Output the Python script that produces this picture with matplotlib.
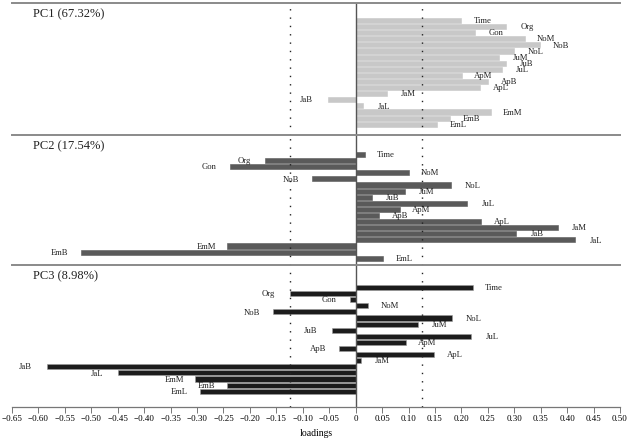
import numpy as np
import matplotlib.pyplot as plt

plt.rcParams['font.family'] = ['Liberation Serif', 'DejaVu Serif']

# variables and loadings
variables = ['Time', 'Org', 'Gon', 'NoM', 'NoB', 'NoL', 'JuM', 'JuB', 'JuL',
             'ApM', 'ApB', 'ApL', 'JaM', 'JaB', 'JaL', 'EmM', 'EmB', 'EmL']
pc1 = [0.200, 0.284, 0.225, 0.320, 0.348, 0.300, 0.271, 0.284, 0.276,
       0.202, 0.250, 0.235, 0.059, -0.053, 0.014, 0.256, 0.179, 0.154]
pc2 = [0.017, -0.171, -0.237, 0.100, -0.083, 0.181, 0.094, 0.030, 0.211,
       0.084, 0.045, 0.237, 0.383, 0.303, 0.414, -0.243, -0.520, 0.051]
pc3 = [0.222, -0.125, -0.011, 0.024, -0.156, 0.183, 0.118, -0.045, 0.219,
       0.095, -0.031, 0.148, 0.010, -0.584, -0.449, -0.303, -0.243, -0.294]
titles = ['PC1 (67.32%)', 'PC2 (17.54%)', 'PC3 (8.98%)']
colors = ['#c8c8c8', '#5a5a5a', '#1c1c1c']
ticks = np.round(np.arange(-0.65, 0.501, 0.05), 2)
cutoff = 0.125

W, H = 630, 438
fig = plt.figure(figsize=(W / 100, H / 100), dpi=100)

# panel layout in pixels: top, height, offset of first bar centre
panels = [(3, 132, 17.5), (135, 130, 19.5), (265, 142, 22.5)]
step = 6.1
x0, x1 = 12, 620

for k, (vals, title, col, (top, hgt, off)) in enumerate(zip([pc1, pc2, pc3], titles, colors, panels)):
    ax = fig.add_axes([x0 / W, 1 - (top + hgt) / H, (x1 - x0) / W, hgt / H])
    ax.set_xlim(-0.65, 0.50)
    ax.set_ylim((hgt - off) / step, -off / step)
    y = np.arange(len(variables))
    ax.barh(y, vals, height=0.82, color=col, edgecolor='#9a9a9a' if k == 2 else col, linewidth=0.4)
    for yi, v, name in zip(y, vals, variables):
        ax.text(v + 0.04 * np.sign(v), yi + 0.1, name, ha='center', va='center', fontsize=6.2, color='#222222')
    ax.axvline(0, color='#555555', lw=1.0)
    for c in (-cutoff, cutoff):
        ax.axvline(c, color='#222222', lw=1.0, ls=(0, (1, 5)))
    ax.text(-0.61, -off / step + 1.8, title, ha='left', va='center', fontsize=9, color='#222222')
    for s in ('left', 'right'):
        ax.spines[s].set_visible(False)
    ax.spines['top'].set_color('#8a8a8a')
    ax.spines['top'].set_linewidth(1.4)
    ax.set_yticks([])
    if k < 2:
        ax.spines['bottom'].set_visible(False)
        ax.set_xticks([])
    else:
        ax.spines['bottom'].set_color('#777777')
        ax.spines['bottom'].set_linewidth(0.9)
        ax.set_xticks(ticks)
        ax.set_xticklabels(['0' if t == 0 else ('%.2f' % t).replace('-', '\u2212') for t in ticks])
        ax.tick_params(axis='x', labelsize=6.5, length=4, width=0.7, color='#777777', pad=2)
        ax.set_xlabel('loadings', fontsize=7, labelpad=4)

fig.savefig('out.png', dpi=100)
